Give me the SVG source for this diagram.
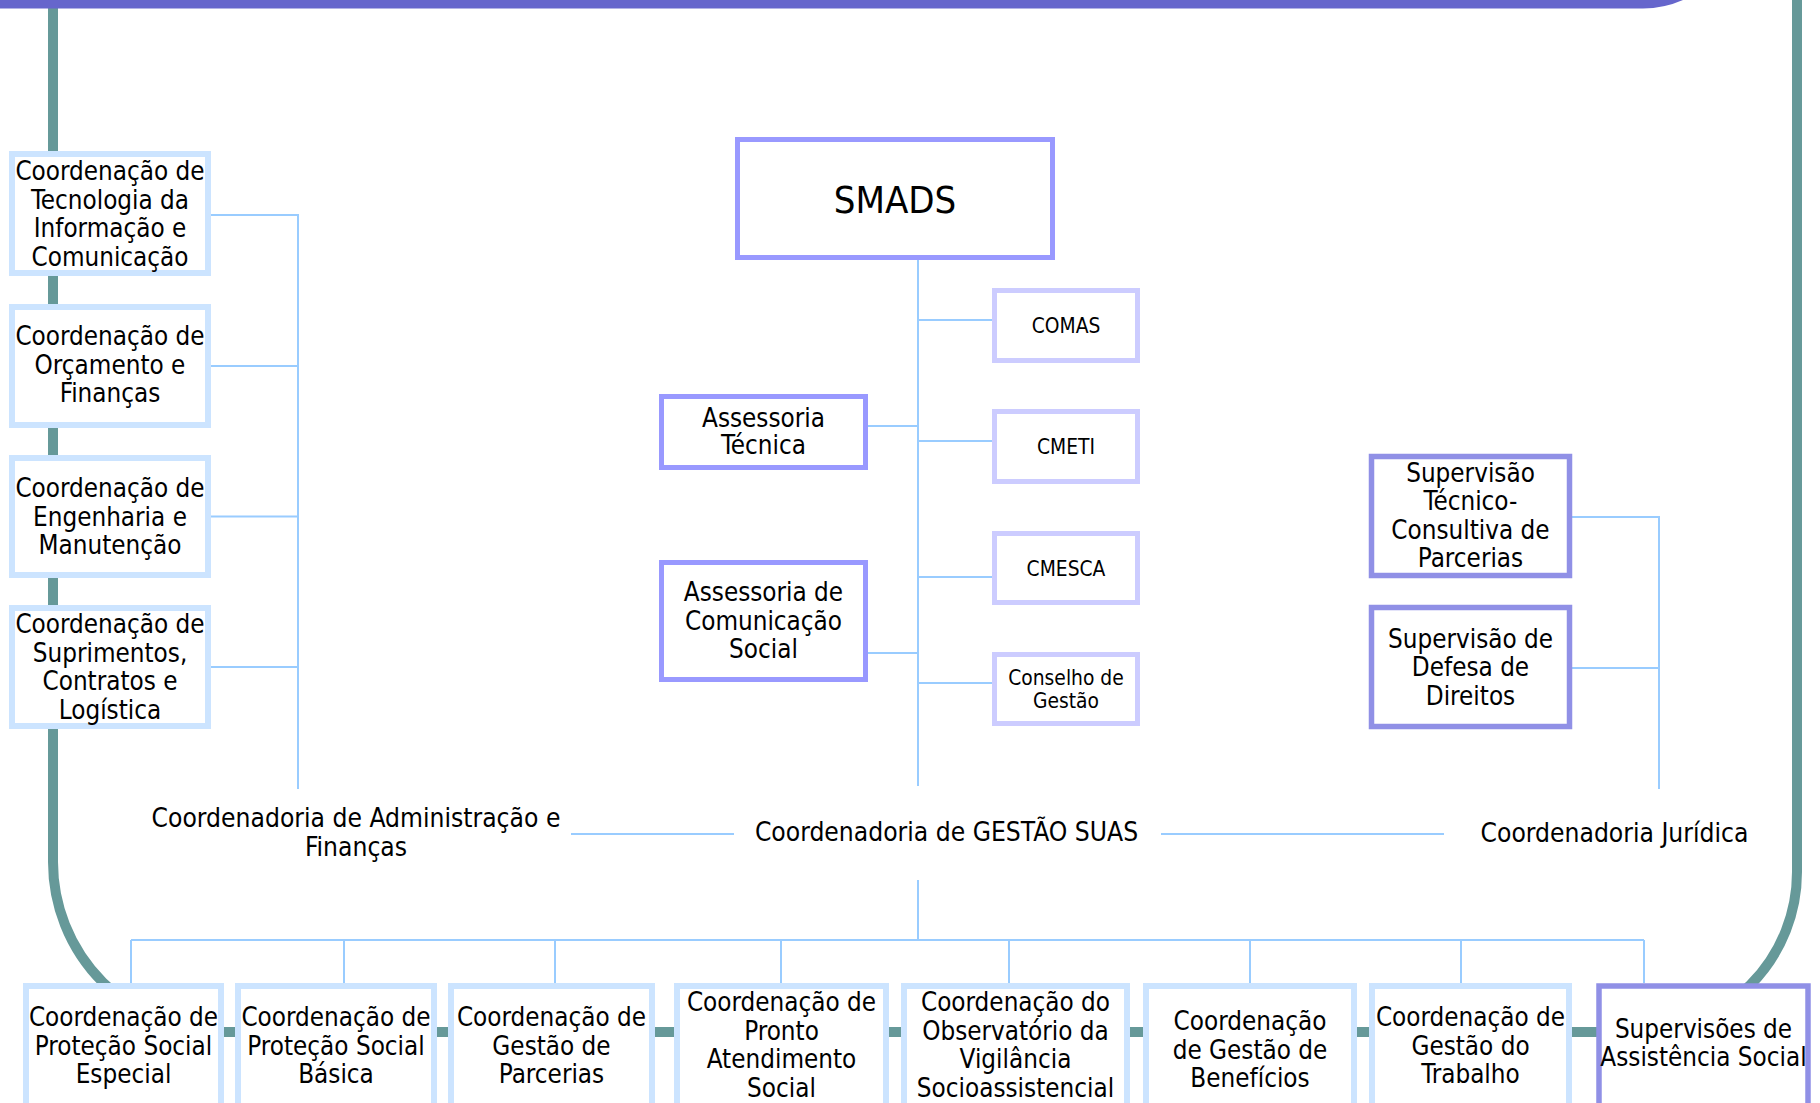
<svg xmlns="http://www.w3.org/2000/svg" width="1820" height="1103" viewBox="0 0 1820 1103">
<style>
text{font-family:"DejaVu Sans Condensed","DejaVu Sans",sans-serif;font-stretch:condensed;fill:#000;text-anchor:middle}
.t{font-size:25.8px}
.f{font-size:26.2px}
.s{font-size:20.8px}
.big{font-size:38px}
.lb{fill:#fff;stroke:#CCE4FF;stroke-width:6}
.pb{fill:#fff;stroke:#9999FF;stroke-width:5}
.sb{fill:#fff;stroke:#CCCCFF;stroke-width:5}
.vb{fill:#fff;stroke:#9090E6;stroke-width:5.5}
.c{stroke:#99CCFF;stroke-width:2;fill:none}
</style>
<rect width="1820" height="1103" fill="#fff"/>
<path id="frame" d="M53,-20 V862 A170,170 0 0 0 223,1032 H1637 A160,160 0 0 0 1797,872 V-20" fill="none" stroke="#669999" stroke-width="10"/>
<path id="topbar" d="M-10,-10 H1690 L1683,0 A100,100 0 0 1 1643,8.5 H-10 Z" fill="#6666CC"/>
<g id="connectors">
<path class="c" d="M918,260 V786"/>
<path class="c" d="M918,320 H992 M918,441 H992 M918,577 H992 M918,683 H992"/>
<path class="c" d="M868,426 H918 M868,653 H918"/>
<path class="c" d="M211,215 H298 V789 M211,366 H298 M211,516.5 H298 M211,667 H298"/>
<path class="c" d="M1572,517 H1659 V789 M1572,668 H1659"/>
<path class="c" d="M571,834 H734 M1161,834 H1444"/>
<path class="c" d="M918,880 V940 M131,940 H1644 M131,940 V983 M344,940 V983 M555,940 V983 M781,940 V983 M1009,940 V983 M1250,940 V983 M1461,940 V983 M1644,940 V983"/>
</g>
<g id="smads"><rect class="pb" x="737.5" y="139.5" width="315" height="118"/><text class="big" x="895" y="212.5">SMADS</text></g>
<g id="comas"><rect class="sb" x="994.5" y="290.5" width="143" height="70"/><text class="s" x="1066" y="333">COMAS</text></g>
<g id="cmeti"><rect class="sb" x="994.5" y="411.5" width="143" height="70"/><text class="s" x="1066" y="454">CMETI</text></g>
<g id="cmesca"><rect class="sb" x="994.5" y="533.5" width="143" height="69"/><text class="s" x="1066" y="575.5">CMESCA</text></g>
<g id="conselho"><rect class="sb" x="994.5" y="654.5" width="143" height="69"/><text class="s" x="1066" y="685">Conselho de<tspan x="1066" y="708">Gestão</tspan></text></g>
<g id="assessoria-tecnica"><rect class="pb" x="661.5" y="396.5" width="204" height="71"/><text class="t" x="763.5" y="426.5">Assessoria<tspan x="763.5" y="454">Técnica</tspan></text></g>
<g id="assessoria-comunicacao"><rect class="pb" x="661.5" y="562.5" width="204" height="117"/><text class="t" x="763.5" y="601">Assessoria de<tspan x="763.5" y="629.5">Comunicação</tspan><tspan x="763.5" y="658">Social</tspan></text></g>
<g id="coord-tic"><rect class="lb" x="12" y="154" width="196" height="119"/><text class="t" x="110" y="180">Coordenação de<tspan x="110" y="208.5">Tecnologia da</tspan><tspan x="110" y="237">Informação e</tspan><tspan x="110" y="265.5">Comunicação</tspan></text></g>
<g id="coord-orcamento"><rect class="lb" x="12" y="307" width="196" height="118"/><text class="t" x="110" y="345">Coordenação de<tspan x="110" y="373.5">Orçamento e</tspan><tspan x="110" y="402">Finanças</tspan></text></g>
<g id="coord-engenharia"><rect class="lb" x="12" y="458" width="196" height="117"/><text class="t" x="110" y="497">Coordenação de<tspan x="110" y="525.5">Engenharia e</tspan><tspan x="110" y="554">Manutenção</tspan></text></g>
<g id="coord-suprimentos"><rect class="lb" x="12" y="608" width="196" height="118"/><text class="t" x="110" y="633">Coordenação de<tspan x="110" y="661.5">Suprimentos,</tspan><tspan x="110" y="690">Contratos e</tspan><tspan x="110" y="718.5">Logística</tspan></text></g>
<g id="sup-tecnico"><rect class="vb" x="1371.5" y="456.5" width="198" height="119"/><text class="t" x="1470.5" y="481.5">Supervisão<tspan x="1470.5" y="510">Técnico-</tspan><tspan x="1470.5" y="538.5">Consultiva de</tspan><tspan x="1470.5" y="567">Parcerias</tspan></text></g>
<g id="sup-defesa"><rect class="vb" x="1371.5" y="607.5" width="198" height="119"/><text class="t" x="1470.5" y="647.5">Supervisão de<tspan x="1470.5" y="676">Defesa de</tspan><tspan x="1470.5" y="704.5">Direitos</tspan></text></g>
<g id="coordenadoria-adm"><text class="f" x="356" y="827">Coordenadoria de Administração e<tspan x="356" y="855.5">Finanças</tspan></text></g>
<g id="coordenadoria-suas"><text class="f" x="946.5" y="841">Coordenadoria de GESTÃO SUAS</text></g>
<g id="coordenadoria-juridica"><text class="f" x="1614.5" y="842">Coordenadoria Jurídica</text></g>
<g id="coord-pse"><rect class="lb" x="26" y="986" width="195" height="125"/><text class="t" x="123.5" y="1026">Coordenação de<tspan x="123.5" y="1054.5">Proteção Social</tspan><tspan x="123.5" y="1083">Especial</tspan></text></g>
<g id="coord-psb"><rect class="lb" x="238" y="986" width="196" height="125"/><text class="t" x="336" y="1026">Coordenação de<tspan x="336" y="1054.5">Proteção Social</tspan><tspan x="336" y="1083">Básica</tspan></text></g>
<g id="coord-parcerias"><rect class="lb" x="451" y="986" width="201" height="125"/><text class="t" x="551.5" y="1026">Coordenação de<tspan x="551.5" y="1054.5">Gestão de</tspan><tspan x="551.5" y="1083">Parcerias</tspan></text></g>
<g id="coord-pronto"><rect class="lb" x="677" y="986" width="209" height="125"/><text class="t" x="781.5" y="1011">Coordenação de<tspan x="781.5" y="1039.5">Pronto</tspan><tspan x="781.5" y="1068">Atendimento</tspan><tspan x="781.5" y="1096.5">Social</tspan></text></g>
<g id="coord-observatorio"><rect class="lb" x="904" y="986" width="223" height="125"/><text class="t" x="1015.5" y="1011">Coordenação do<tspan x="1015.5" y="1039.5">Observatório da</tspan><tspan x="1015.5" y="1068">Vigilância</tspan><tspan x="1015.5" y="1096.5">Socioassistencial</tspan></text></g>
<g id="coord-beneficios"><rect class="lb" x="1146" y="986" width="208" height="125"/><text class="t" x="1250" y="1030">Coordenação<tspan x="1250" y="1058.5">de Gestão de</tspan><tspan x="1250" y="1087">Benefícios</tspan></text></g>
<g id="coord-trabalho"><rect class="lb" x="1372" y="986" width="197" height="125"/><text class="t" x="1470.5" y="1026">Coordenação de<tspan x="1470.5" y="1054.5">Gestão do</tspan><tspan x="1470.5" y="1083">Trabalho</tspan></text></g>
<g id="sup-assistencia"><rect class="vb" x="1599" y="986" width="209" height="125"/><text class="t" x="1703.5" y="1037.5">Supervisões de<tspan x="1703.5" y="1066">Assistência Social</tspan></text></g>
</svg>
